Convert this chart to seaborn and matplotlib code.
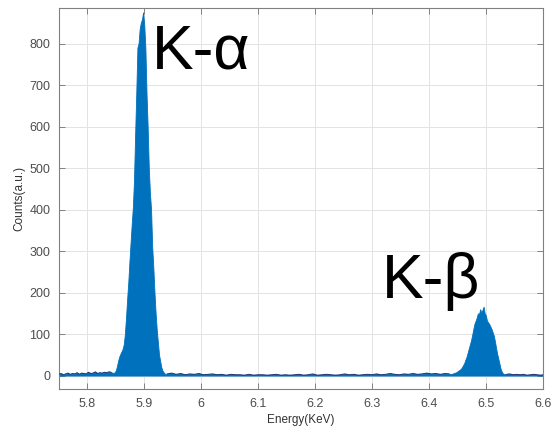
import pandas as pd
import numpy as np
import matplotlib
matplotlib.use("Agg")
import matplotlib.pyplot as plt
import seaborn as sns

sns.set_style("whitegrid")
plt.rcParams['font.family'] = ['Liberation Sans', 'DejaVu Sans']

# background, left of K-alpha
energy_bg_left = [5.750, 5.754, 5.758, 5.762, 5.766, 5.770, 5.774, 5.778, 5.782, 5.786,
                  5.790, 5.794, 5.798, 5.802, 5.806, 5.810, 5.814, 5.818, 5.822, 5.826,
                  5.830, 5.834, 5.838, 5.842]
counts_bg_left = [3, 5, 2, 4, 6, 3, 5, 4, 7, 3, 6, 5, 4, 8, 5, 6, 9, 5, 7, 6, 8, 7, 9, 8]

# K-alpha peak
energy_ka = [5.846, 5.848, 5.850, 5.852, 5.854, 5.856, 5.858, 5.860, 5.862, 5.864,
             5.866, 5.868, 5.870, 5.872, 5.874, 5.876, 5.878, 5.880, 5.882, 5.884,
             5.886, 5.888, 5.890, 5.892, 5.894, 5.896, 5.898, 5.900, 5.902, 5.904,
             5.906, 5.908, 5.910, 5.912, 5.914, 5.916, 5.918, 5.920, 5.922, 5.924,
             5.926, 5.928, 5.930, 5.932, 5.934, 5.936, 5.938]
counts_ka = [6, 8, 12, 22, 35, 45, 52, 58, 64, 75,
             100, 140, 185, 225, 275, 320, 365, 405, 470, 580,
             680, 790, 800, 835, 850, 858, 875, 845, 790, 680,
             600, 500, 440, 400, 310, 260, 200, 150, 110, 80,
             50, 35, 20, 12, 8, 5, 3]

# background between the peaks
energy_bg_mid = [5.940, 5.948, 5.956, 5.964, 5.972, 5.980, 5.988, 5.996, 6.004, 6.012,
                 6.020, 6.028, 6.036, 6.044, 6.052, 6.060, 6.068, 6.076, 6.084, 6.092,
                 6.100, 6.108, 6.116, 6.124, 6.132, 6.140, 6.148, 6.156, 6.164, 6.172,
                 6.180, 6.188, 6.196, 6.204, 6.212, 6.220, 6.228, 6.236, 6.244, 6.252,
                 6.260, 6.268, 6.276, 6.284, 6.292, 6.300, 6.308, 6.316, 6.324, 6.332,
                 6.340, 6.348, 6.356, 6.364, 6.372, 6.380, 6.388, 6.396, 6.404, 6.412,
                 6.420, 6.428, 6.436]
counts_bg_mid = [4, 6, 3, 5, 2, 4, 3, 5, 2, 3,
                 4, 2, 3, 1, 3, 2, 2, 1, 3, 1,
                 2, 2, 1, 2, 3, 1, 2, 1, 2, 3,
                 1, 2, 4, 1, 2, 3, 2, 1, 2, 4,
                 2, 3, 1, 2, 3, 2, 4, 2, 3, 5,
                 3, 2, 4, 3, 5, 3, 4, 6, 4, 5,
                 3, 5, 4]

# K-beta peak
energy_kb = [6.440, 6.442, 6.444, 6.446, 6.448, 6.450, 6.452, 6.454, 6.456, 6.458,
             6.460, 6.462, 6.464, 6.466, 6.468, 6.470, 6.472, 6.474, 6.476, 6.478,
             6.480, 6.482, 6.484, 6.486, 6.488, 6.490, 6.492, 6.494, 6.496, 6.498,
             6.500, 6.502, 6.504, 6.506, 6.508, 6.510, 6.512, 6.514, 6.516, 6.518,
             6.520, 6.522, 6.524, 6.526, 6.528, 6.530, 6.532]
counts_kb = [4, 5, 6, 7, 8, 10, 12, 14, 16, 20,
             25, 30, 38, 45, 55, 65, 75, 85, 98, 112,
             125, 132, 140, 150, 148, 160, 152, 158, 166, 150,
             145, 132, 128, 124, 118, 112, 104, 96, 82, 66,
             52, 40, 28, 16, 9, 5, 4]

# background, right of K-beta
energy_bg_right = [6.536, 6.542, 6.548, 6.554, 6.560, 6.566, 6.572, 6.578, 6.584, 6.590, 6.596, 6.600]
counts_bg_right = [3, 4, 2, 3, 2, 3, 1, 2, 3, 2, 1, 2]

xticks = [5.8, 5.9, 6.0, 6.1, 6.2, 6.3, 6.4, 6.5, 6.6]
xtick_labels = ['5.8', '5.9', '6', '6.1', '6.2', '6.3', '6.4', '6.5', '6.6']
yticks = [0, 100, 200, 300, 400, 500, 600, 700, 800]

df = pd.DataFrame({
    'energy': energy_bg_left + energy_ka + energy_bg_mid + energy_kb + energy_bg_right,
    'counts': counts_bg_left + counts_ka + counts_bg_mid + counts_kb + counts_bg_right,
}).sort_values('energy')

fig = plt.figure(figsize=(5.55, 4.33), dpi=100)
ax = fig.add_axes([0.106, 0.101, 0.872, 0.880])

ax.fill_between(df['energy'], df['counts'], 0, color='#0072BD', lw=0.6, zorder=2)
# dark noisy outline only along the flat background
for e, c in [(energy_bg_left, counts_bg_left), (energy_bg_mid, counts_bg_mid),
             (energy_bg_right, counts_bg_right)]:
    sns.lineplot(x=e, y=c, color='#1f3470', lw=0.7, ax=ax, zorder=3)

ax.set_xlim(5.75, 6.6)
ax.set_ylim(-33, 885)
ax.set_xticks(xticks)
ax.set_xticklabels(xtick_labels)
ax.set_yticks(yticks)

ax.grid(True, color='#e3e3e3', lw=0.7)
ax.set_axisbelow(True)
for s in ax.spines.values():
    s.set_color('#808080')
    s.set_linewidth(0.8)
ax.tick_params(direction='in', length=4, width=0.7, color='#808080',
               top=True, right=True, bottom=True, left=True,
               labelsize=9, labelcolor='#4d4d4d', pad=6)

ax.set_xlabel('Energy(KeV)', fontsize=8.5, color='#333333', labelpad=3)
ax.set_ylabel('Counts(a.u.)', fontsize=8.5, color='#333333', labelpad=3)

ax.text(5.913, 740, 'K-α', fontsize=45, color='black', ha='left', va='baseline')
ax.text(6.318, 187, 'K-β', fontsize=45, color='black', ha='left', va='baseline')

fig.savefig('out.png', dpi=100)
